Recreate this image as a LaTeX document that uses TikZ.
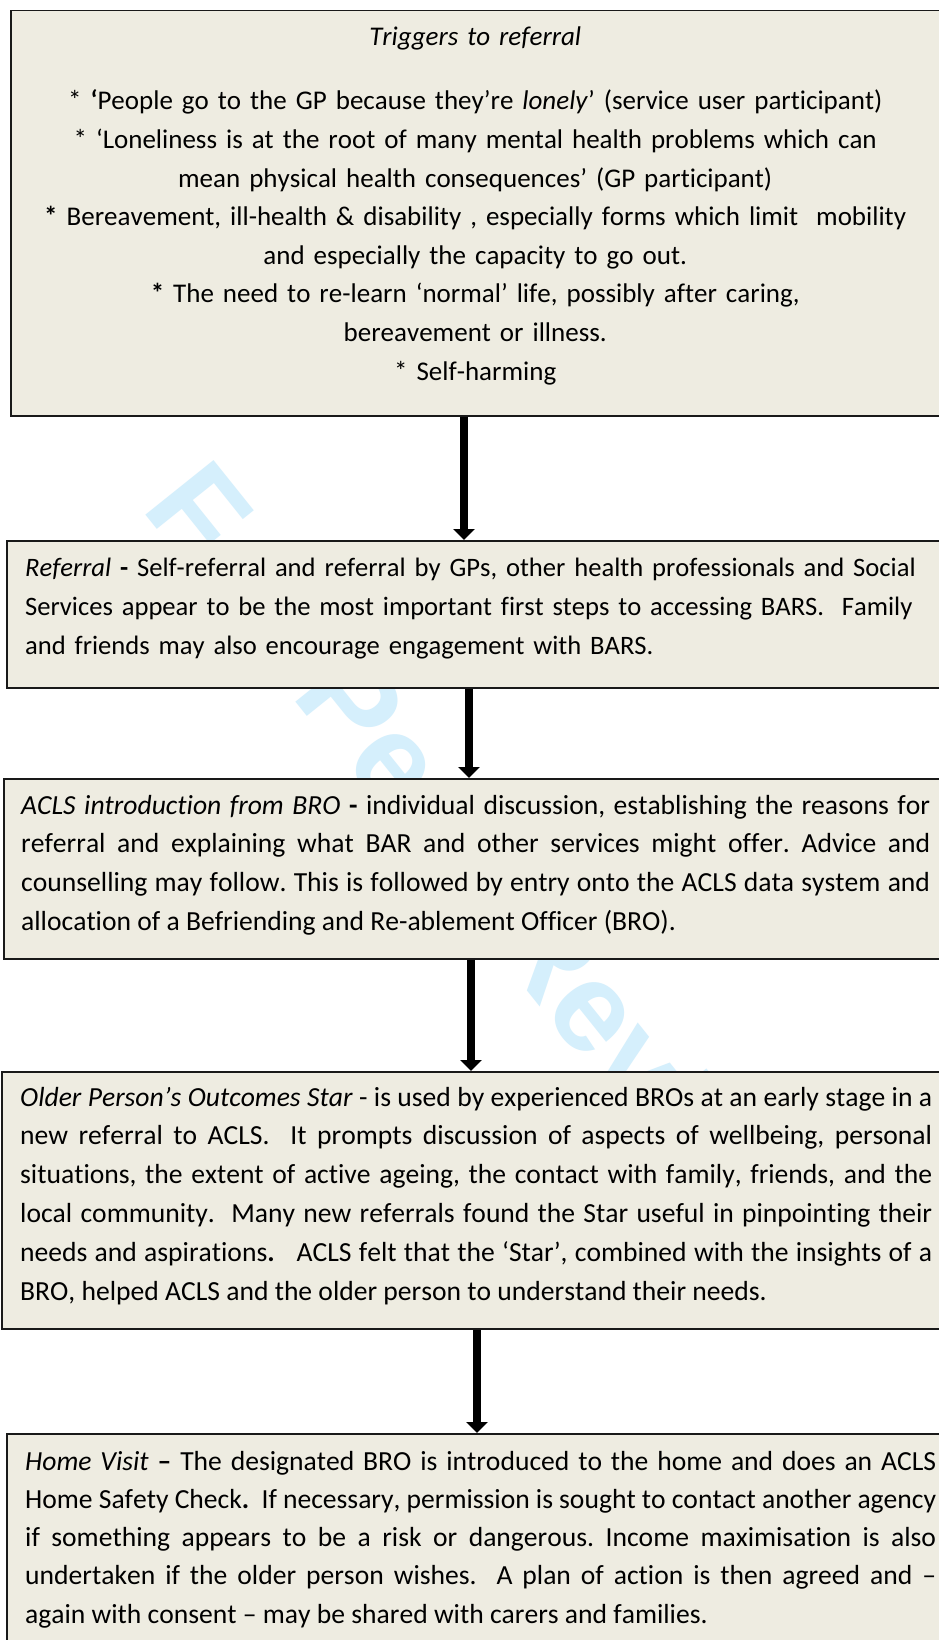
\documentclass[tikz,border=0pt]{standalone}
\usepackage{fontspec}
\setmainfont{Carlito}[Ligatures={TeX,CommonOff},Kerning=Off]
\newfontfamily\stampfont{Liberation Sans}
\usetikzlibrary{arrows.meta}
\definecolor{boxfill}{RGB}{238,236,225}
\definecolor{stampblue}{RGB}{213,239,252}
\frenchspacing
\hyphenpenalty=10000
\exhyphenpenalty=10000
\tolerance=10000
\hbadness=10000

\begin{document}
\begin{tikzpicture}[x=1pt,y=-1pt,font=\fontsize{27}{38.6}\selectfont]
\tikzset{panel/.style = {draw=black!90,fill=boxfill,line width=1.5pt,anchor=north west,inner sep=0pt}}
\tikzset{blurb/.style = {anchor=base west,inner sep=0pt,text width=910pt,align=justify}}
\tikzset{flow/.style = {line width=8.5pt,-{Triangle[width=21pt,length=11pt]}}}
\fill[white] (0,0) rectangle (938,1640);
\useasboundingbox (0,0) rectangle (938,1640);
% watermark
\node[anchor=base west,rotate=-51.3,inner sep=0pt,text=stampblue,
  font=\stampfont\bfseries\fontsize{127}{127}\selectfont] (stamp) at (140,508) {For Peer Review};
% boxes
\node[panel,minimum width=930pt,minimum height=405pt] (trigger) at (10,10) {};
\node[panel,minimum width=940pt,minimum height=147pt] (referral) at (6,540) {};
\node[panel,minimum width=943pt,minimum height=180pt] (intro) at (3,778) {};
\node[panel,minimum width=945pt,minimum height=257pt] (star) at (1,1071) {};
\node[panel,minimum width=940pt,minimum height=260pt] (visit) at (6,1433) {};
% texts
\node[blurb,align=center] (triggertext) at (20,46) {\textit{Triggers to referral}\\[25.4pt]
{*} \textbf{‘}People go to the GP because they’re \textit{lonely}’ (service user participant)\\
{*} ‘Loneliness is at the root of many mental health problems which can\\
mean physical health consequences’ (GP participant)\\
\textbf{*} Bereavement, ill-health \& disability , especially forms which limit\ \ mobility\\
and especially the capacity to go out.\\
\textbf{*} The need to re-learn ‘normal’ life, possibly after caring,\\
bereavement or illness.\\
{*} Self-harming};
\node[blurb,align=left,font=\fontsize{26.6}{39}\selectfont] (referraltext) at (25,576) {\textit{Referral} \textbf{-} Self-referral and referral by GPs, other health professionals and Social\\
Services appear to be the most important first steps to accessing BARS.\ \ Family\\
and friends may also encourage engagement with BARS.};
\node[blurb,text width=909pt,font=\fontsize{27.6}{38.7}\selectfont] (introtext) at (21,814) {\textit{ACLS introduction from BRO} \textbf{-} individual discussion, establishing the reasons for\linebreak
referral and explaining what BAR and other services might offer. Advice and\linebreak
counselling may follow. This is followed by entry onto the ACLS data system and\linebreak
allocation of a Befriending and Re-ablement Officer (BRO).};
\node[blurb,text width=912pt,font=\fontsize{27.6}{38.8}\selectfont] (startext) at (20,1106) {\textit{Older Person’s Outcomes Star} - is used by experienced BROs at an early stage in a\linebreak
new referral to ACLS.\ \ It prompts discussion of aspects of wellbeing, personal\linebreak
situations, the extent of active ageing, the contact with family, friends, and the\linebreak
local community.\ \ Many new referrals found the Star useful in pinpointing their\linebreak
needs and aspirations\textbf{.}\ \ \ ACLS felt that the ‘Star’, combined with the insights of a\linebreak
BRO, helped ACLS and the older person to understand their needs.};
\node[blurb,text width=911pt,font=\fontsize{27.6}{38.3}\selectfont] (visittext) at (25,1470) {\textit{Home Visit} \textbf{–} The designated BRO is introduced to the home and does an ACLS\linebreak
Home Safety Check\textbf{.}\ \ If necessary, permission is sought to contact another agency\linebreak
if something appears to be a risk or dangerous. Income maximisation is also\linebreak
undertaken if the older person wishes.\ \ A plan of action is then agreed and –\linebreak
again with consent – may be shared with carers and families.};
% arrows
\draw[flow] (trigger.south -| 464,0) -- (referral.north -| 464,0);
\draw[flow] (referral.south -| 469,0) -- (intro.north -| 469,0);
\draw[flow] (intro.south -| 471,0) -- (star.north -| 471,0);
\draw[flow] (star.south -| 477,0) -- (visit.north -| 477,0);
\end{tikzpicture}
\end{document}
